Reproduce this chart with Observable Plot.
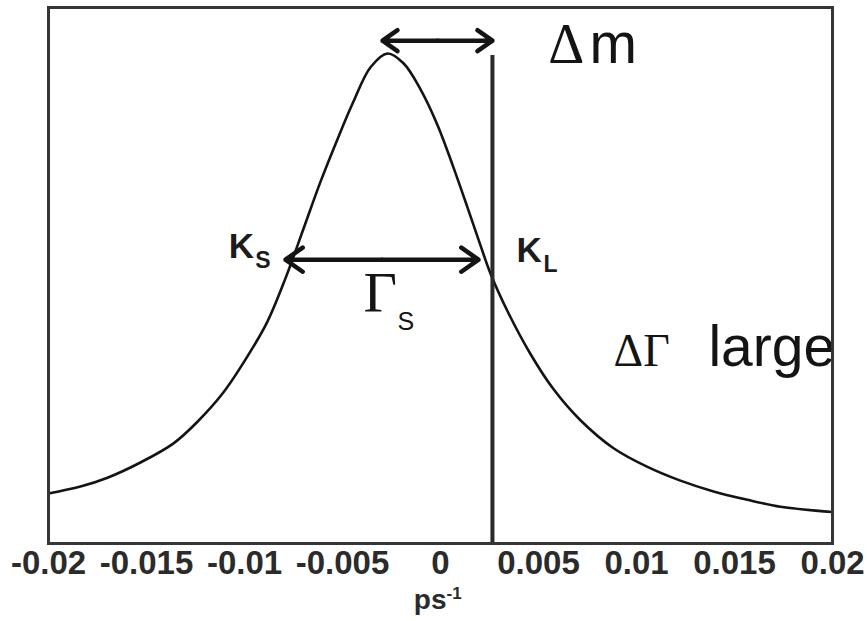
<!DOCTYPE html>
<html>
<head>
<meta charset="utf-8">
<script src="https://cdn.jsdelivr.net/npm/d3@7"></script>
<script src="https://cdn.jsdelivr.net/npm/@observablehq/plot@0.6"></script>
<style>
  html, body { margin: 0; padding: 0; background: #fff; }
  #chart svg { display: block; }
</style>
</head>
<body>
<div id="chart"></div>
<script>
// Frequency axis (ps^-1) tick values and their printed labels
const tickValues = [-0.02, -0.015, -0.01, -0.005, 0, 0.005, 0.01, 0.015, 0.02];
const tickLabels = ["-0.02", "-0.015", "-0.01", "-0.005", "0", "0.005", "0.01", "0.015", "0.02"];

// Broad K_S resonance profile (relative intensity, peak = 1)
const curveX = [-0.02, -0.01837, -0.01699, -0.01531, -0.01362, -0.0124, -0.01107, -0.00985,
  -0.00883, -0.00791, -0.00699, -0.00612, -0.00526, -0.00444, -0.00357, -0.0027, -0.00189,
  -0.00102, -0.00015, 0.00066, 0.00138, 0.00204, 0.00255, 0.00342, 0.00459, 0.00577,
  0.00714, 0.00883, 0.01056, 0.01224, 0.01393, 0.01566, 0.01735, 0.02];
const curveY = [0.102, 0.116, 0.134, 0.165, 0.204, 0.248, 0.308, 0.381,
  0.452, 0.540, 0.641, 0.737, 0.823, 0.900, 0.970, 0.998, 0.978,
  0.925, 0.852, 0.766, 0.684, 0.607, 0.550, 0.473, 0.386, 0.314,
  0.251, 0.194, 0.156, 0.128, 0.106, 0.089, 0.075, 0.064];

// Narrow K_L line: position and height
const klX = [0.00265];
const klHeight = [0.994];

// Double arrows: mass difference (peak to K_L) and K_S width
const dmSpan = [-0.00296, 0.00265];
const dmLevel = 1.024;
const gammaSpan = [-0.00791, 0.00194];
const gammaLevel = 0.578;

const curve = curveX.map((x, i) => ({x, y: curveY[i]}));

// split a double arrow into two heads drawn from its midpoint
function doubleArrow([a, b], y) {
  const m = (a + b) / 2;
  return [{x1: m, x2: a, y}, {x1: m, x2: b, y}];
}

const sans = "'Liberation Sans', Arial, Helvetica, sans-serif";
const serif = "'Liberation Serif', 'Times New Roman', serif";
const ink = "#141414";

const chart = Plot.plot({
  width: 867,
  height: 621,
  marginLeft: 48,
  marginRight: 35,
  marginTop: 7,
  marginBottom: 78,
  style: {fontFamily: sans, background: "#fff", color: ink},
  x: {domain: [-0.02, 0.02]},
  y: {domain: [0, 1.0916], axis: null},
  marks: [
    Plot.axisX({
      ticks: tickValues,
      tickFormat: (d) => tickLabels[tickValues.indexOf(d)],
      tickSize: 0,
      tickPadding: 7,
      fontSize: 33,
      fontWeight: "bold",
      fill: "#2b2b2b",
      label: null
    }),
    Plot.line(curve, {x: "x", y: "y", curve: "catmull-rom", stroke: ink, strokeWidth: 2.6}),
    Plot.ruleX(klX, {x: (d) => d, y1: 0, y2: (d, i) => klHeight[i], stroke: "#2a2a2a", strokeWidth: 4}),
    Plot.arrow(doubleArrow(dmSpan, dmLevel), {
      x1: "x1", x2: "x2", y1: "y", y2: "y", stroke: ink, strokeWidth: 4.5, headLength: 7, headAngle: 70
    }),
    Plot.arrow(doubleArrow(gammaSpan, gammaLevel), {
      x1: "x1", x2: "x2", y1: "y", y2: "y", stroke: ink, strokeWidth: 4.5, headLength: 7, headAngle: 70
    }),
    // Greek symbols in a serif face
    Plot.text([{t: "Δ", x: 0.0055, y: 0.978}], {
      x: "x", y: "y", text: "t", fontFamily: serif, fontSize: 56, textAnchor: "start", lineAnchor: "bottom", fill: ink
    }),
    Plot.text([{t: "ΔΓ", x: 0.00883, y: 0.3625}], {
      x: "x", y: "y", text: "t", fontFamily: serif, fontSize: 46, textAnchor: "start", lineAnchor: "bottom", fill: ink
    }),
    Plot.text([{t: "Γ", x: -0.00393, y: 0.4705}], {
      x: "x", y: "y", text: "t", fontFamily: serif, fontSize: 58, textAnchor: "start", lineAnchor: "bottom", fill: ink
    }),
    // Latin parts of the annotations
    Plot.text([{t: "m", x: 0.0076, y: 0.978}, {t: "large", x: 0.01367, y: 0.3625}], {
      x: "x", y: "y", text: "t", fontSize: 57, textAnchor: "start", lineAnchor: "bottom", fill: ink
    }),
    Plot.text([{t: "S", x: -0.00219, y: 0.434}], {
      x: "x", y: "y", text: "t", fontSize: 25, textAnchor: "start", lineAnchor: "bottom", fill: ink
    }),
    // K_S and K_L labels
    Plot.text([{t: "K", x: -0.0108, y: 0.582}, {t: "K", x: 0.00388, y: 0.574}], {
      x: "x", y: "y", text: "t", fontSize: 35, fontWeight: "bold", textAnchor: "start", lineAnchor: "bottom", fill: "#1c1c1c"
    }),
    Plot.text([{t: "S", x: -0.00945, y: 0.561}, {t: "L", x: 0.00526, y: 0.553}], {
      x: "x", y: "y", text: "t", fontSize: 23, fontWeight: "bold", textAnchor: "start", lineAnchor: "bottom", fill: "#1c1c1c"
    }),
    // axis unit: ps^-1
    Plot.text(["ps"], {
      x: 0, frameAnchor: "bottom", dx: 6, dy: 65, text: (d) => d, fontSize: 28, fontWeight: "bold",
      textAnchor: "end", lineAnchor: "bottom", fill: "#2b2b2b"
    }),
    Plot.text(["-1"], {
      x: 0, frameAnchor: "bottom", dx: 6, dy: 55, text: (d) => d, fontSize: 17, fontWeight: "bold",
      textAnchor: "start", lineAnchor: "bottom", fill: "#2b2b2b"
    }),
    Plot.frame({stroke: "#363636", strokeWidth: 3})
  ]
});

document.getElementById("chart").append(chart);
</script>
</body>
</html>
